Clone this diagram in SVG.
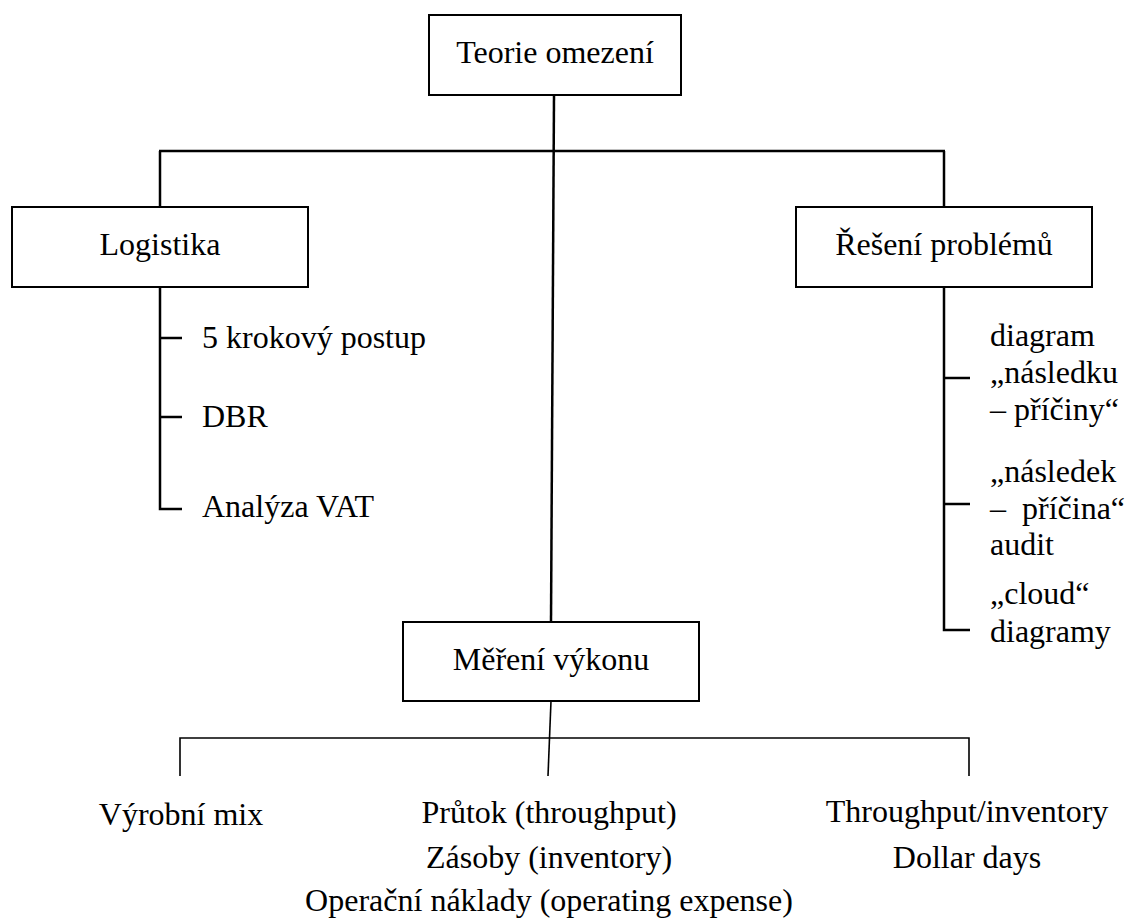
<svg xmlns="http://www.w3.org/2000/svg" width="1129" height="919" viewBox="0 0 1129 919">
  <style>
    .box { fill: #ffffff; stroke: #000000; stroke-width: 2; }
    .lbl { font-family: "Liberation Serif", "Times New Roman", serif; font-size: 32px; fill: #000000; }
    .mid { text-anchor: middle; }
    .wire { fill: none; stroke: #000000; stroke-width: 2.5; stroke-linecap: butt; }
    .thin { fill: none; stroke: #000000; stroke-width: 1.6; }
  </style>
  <rect width="1129" height="919" fill="#ffffff"/>

  <!-- connectors -->
  <g id="connectors">
    <line class="wire" x1="554" y1="95" x2="551" y2="622"/>
    <line class="wire" x1="159" y1="151" x2="945" y2="151" stroke-width="3"/>
    <line class="wire" x1="160" y1="151" x2="160" y2="207"/>
    <line class="wire" x1="944" y1="151" x2="944" y2="207"/>
    <!-- Logistika branch -->
    <polyline class="wire" points="160,287 160,509 182,509"/>
    <line class="wire" x1="160" y1="338" x2="182" y2="338"/>
    <line class="wire" x1="160" y1="417" x2="182" y2="417"/>
    <!-- Řešení problémů branch -->
    <polyline class="wire" points="944,287 944,630 970,630"/>
    <line class="wire" x1="944" y1="378" x2="970" y2="378"/>
    <line class="wire" x1="944" y1="504" x2="970" y2="504"/>
    <!-- Měření výkonu branch -->
    <line class="thin" x1="551" y1="701" x2="548" y2="776"/>
    <polyline class="thin" points="180,776 180,738 969,738 969,776"/>
  </g>

  <g id="node-teorie">
    <rect class="box" x="429" y="15" width="252" height="80"/>
    <text class="lbl mid" x="555" y="63">Teorie omezení</text>
  </g>

  <g id="node-logistika">
    <rect class="box" x="12" y="207" width="296" height="80"/>
    <text class="lbl mid" x="160" y="255">Logistika</text>
  </g>

  <g id="node-logistika-items">
    <text class="lbl" x="202" y="348">5 krokový postup</text>
    <text class="lbl" x="202" y="427">DBR</text>
    <text class="lbl" x="202" y="517">Analýza VAT</text>
  </g>

  <g id="node-reseni">
    <rect class="box" x="796" y="207" width="296" height="80"/>
    <text class="lbl mid" x="944" y="255">Řešení problémů</text>
  </g>

  <g id="node-reseni-items">
    <text class="lbl" x="990" y="346">diagram</text>
    <text class="lbl" x="990" y="383">„následku</text>
    <text class="lbl" x="990" y="420">– příčiny“</text>
    <text class="lbl" x="990" y="482">„následek</text>
    <text class="lbl" x="990" y="519">–&#160; příčina“</text>
    <text class="lbl" x="990" y="555">audit</text>
    <text class="lbl" x="990" y="604">„cloud“</text>
    <text class="lbl" x="990" y="642">diagramy</text>
  </g>

  <g id="node-mereni">
    <rect class="box" x="403" y="622" width="296" height="79"/>
    <text class="lbl mid" x="551" y="670">Měření výkonu</text>
  </g>

  <g id="node-vyrobni-mix">
    <text class="lbl mid" x="181" y="825">Výrobní mix</text>
  </g>

  <g id="node-prutok">
    <text class="lbl mid" x="549" y="823">Průtok (throughput)</text>
    <text class="lbl mid" x="549" y="868">Zásoby (inventory)</text>
    <text class="lbl mid" x="549" y="911">Operační náklady (operating expense)</text>
  </g>

  <g id="node-throughput">
    <text class="lbl mid" x="967" y="822">Throughput/inventory</text>
    <text class="lbl mid" x="967" y="868">Dollar days</text>
  </g>
</svg>
